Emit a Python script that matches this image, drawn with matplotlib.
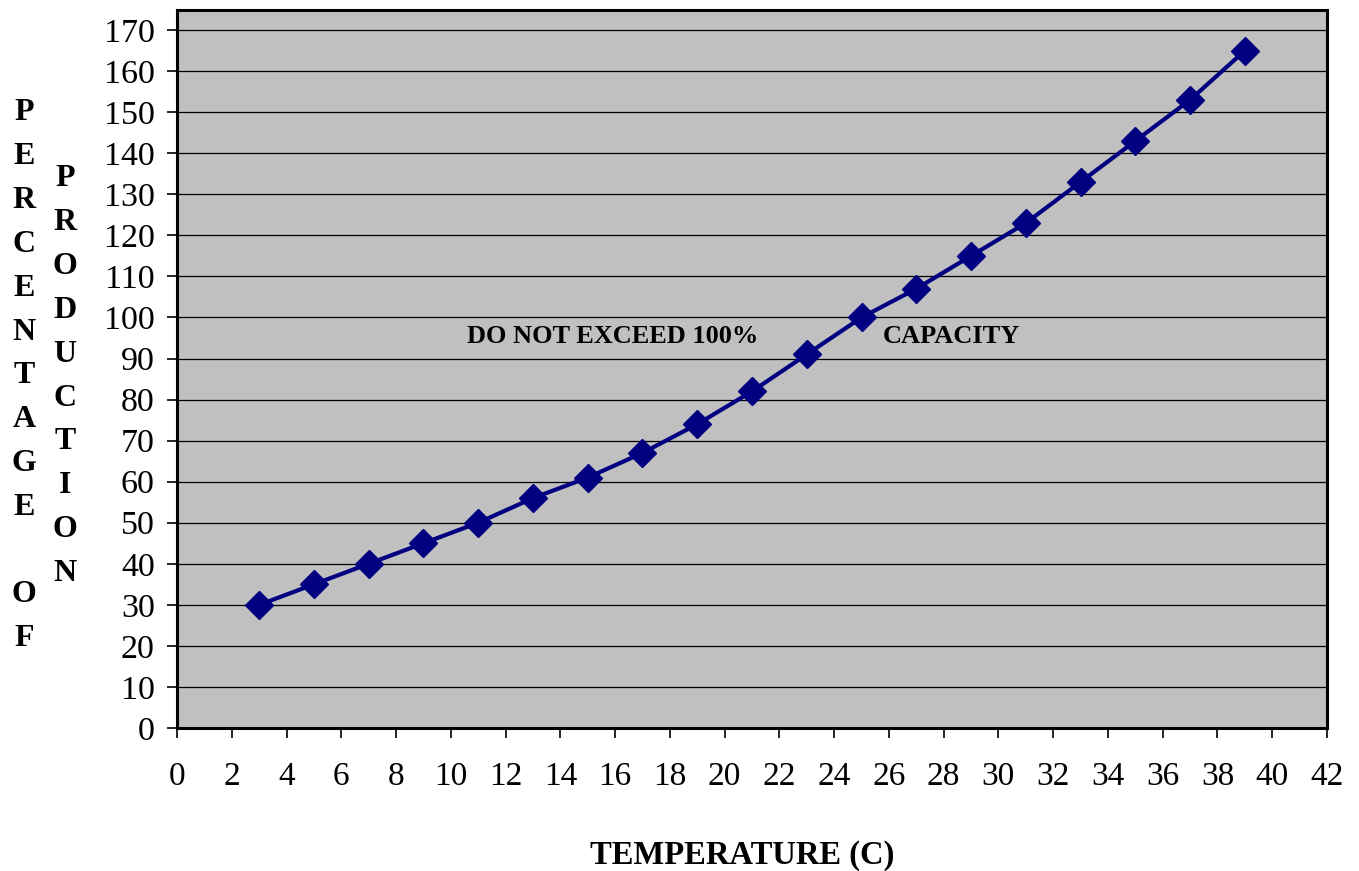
import matplotlib
matplotlib.use("Agg")
import matplotlib.pyplot as plt

temperature = [3, 5, 7, 9, 11, 13, 15, 17, 19, 21, 23, 25, 27, 29, 31, 33, 35, 37, 39]
production = [30, 35, 40, 45, 50, 56, 61, 67, 74, 82, 91, 100, 107, 115, 123, 133, 143, 153, 165]
x_ticks = list(range(0, 43, 2))
y_ticks = list(range(0, 171, 10))

plt.rcParams['font.family'] = ['Liberation Serif', 'DejaVu Serif']

W, H = 1359, 871
fig = plt.figure(figsize=(W / 100, H / 100), dpi=100)
ax = fig.add_axes([177 / W, 1 - 728 / H, (1327 - 177) / W, (728 - 10) / H])
ax.set_facecolor('#C0C0C0')

ax.plot(temperature, production, color='#000080', linewidth=3.0,
        marker='D', markersize=14, markerfacecolor='#000080',
        markeredgecolor='#000080', zorder=3)

ax.set_xlim(0, 42)
ax.set_ylim(0, 174.9)
ax.set_xticks(x_ticks)
ax.set_yticks(y_ticks)
ax.yaxis.grid(True, color='black', linewidth=0.9)
ax.set_axisbelow(True)
ax.tick_params(axis='x', direction='out', length=7, width=1.2, labelsize=24, pad=17, colors='black')
ax.tick_params(axis='y', direction='out', length=7, width=1.2, labelsize=24.5, pad=9, colors='black')
for s in ax.spines.values():
    s.set_linewidth(2.2)
    s.set_color('black')

ax.text(15.9, 93.8, 'DO NOT EXCEED 100%', ha='center', va='baseline',
        fontsize=19, fontweight='bold')
ax.text(28.3, 93.8, 'CAPACITY', ha='center', va='baseline',
        fontsize=19, fontweight='bold')

fig.text(742 / W, 1 - 855 / H, 'TEMPERATURE (C)', ha='center', va='center',
         fontsize=23.5, fontweight='bold')

step = 43.8
label1 = 'PERCENTAGE OF'
label2 = 'PRODUCTION'
for i, ch in enumerate(label1):
    if ch == ' ':
        continue
    y = 113 + i * step
    fig.text(24 / W, 1 - y / H, ch, ha='center', va='center', fontsize=23, fontweight='bold')
for i, ch in enumerate(label2):
    y = 179 + i * step
    fig.text(65 / W, 1 - y / H, ch, ha='center', va='center', fontsize=23, fontweight='bold')

fig.savefig('out.png', dpi=100)
